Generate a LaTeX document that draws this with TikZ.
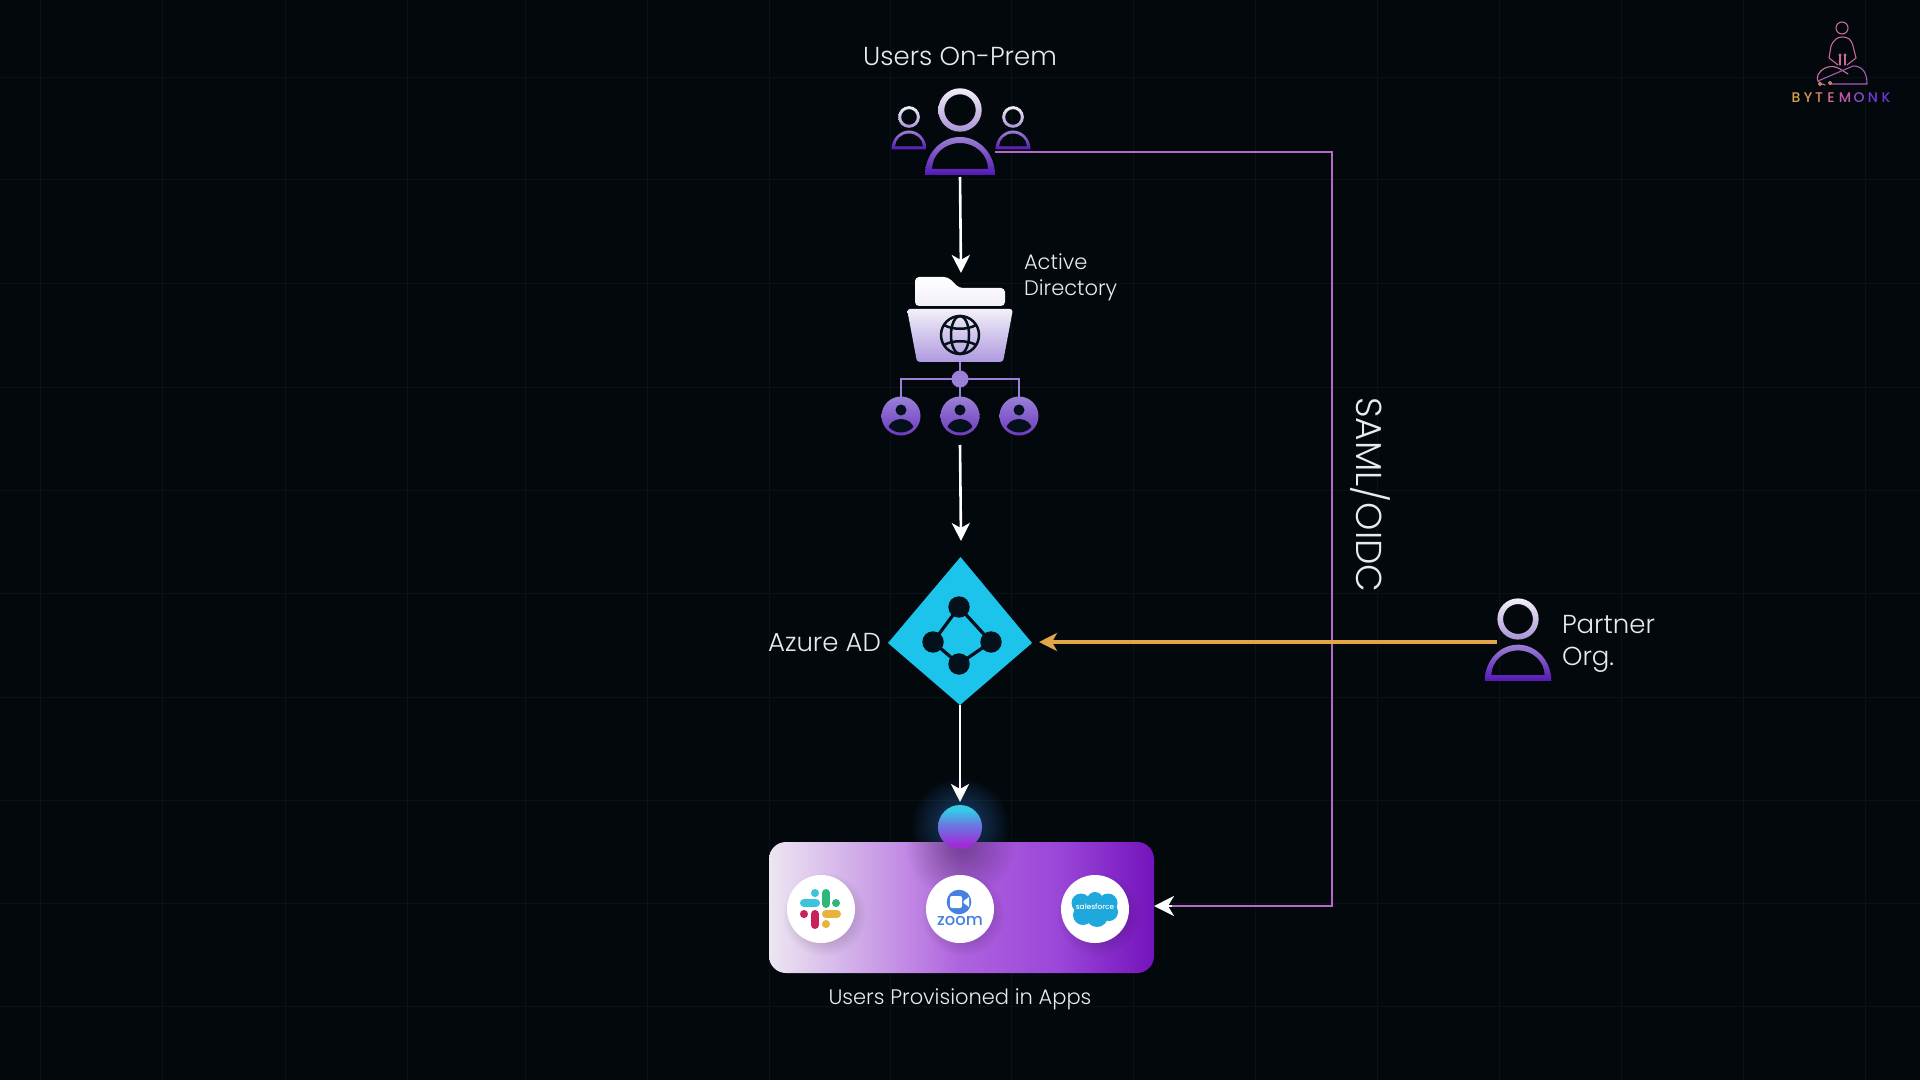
\documentclass[tikz,border=0pt]{standalone}
\usepackage{fontspec}
\setmainfont{Poppins Light}
\newfontfamily\medfont{Poppins Medium}
\usetikzlibrary{arrows.meta,fadings,calc}
\tikzfading[name=softglow,inner color=transparent!0,outer color=transparent!100]
\definecolor{bgc}{HTML}{03080C}
\definecolor{gridc}{HTML}{091216}
\definecolor{labelc}{HTML}{E8EAF0}
\definecolor{headtop}{HTML}{F2F0F8}
\definecolor{headbot}{HTML}{A993D6}
\definecolor{bodytop}{HTML}{9C7FD2}
\definecolor{bodybot}{HTML}{5318B4}
\definecolor{samlc}{HTML}{B768C8}
\definecolor{partnerc}{HTML}{E2A548}
\definecolor{azurec}{HTML}{1CC3EA}
\definecolor{darkc}{HTML}{04101A}
\definecolor{treec}{HTML}{9A80D6}
\definecolor{glowc}{HTML}{2C6FC0}
\definecolor{zoomc}{HTML}{4580E2}
\definecolor{sfc}{HTML}{1FA8DC}
\pgfdeclarehorizontalshading{appsgrad}{100bp}{
  rgb(0bp)=(.929,.902,.949);
  rgb(25bp)=(.929,.902,.949);
  rgb(37bp)=(.812,.659,.91);
  rgb(50bp)=(.682,.384,.871);
  rgb(63bp)=(.604,.271,.847);
  rgb(75bp)=(.455,.075,.737);
  rgb(100bp)=(.455,.075,.737)}
\pgfdeclareverticalshading{ballgrad}{100bp}{
  rgb(0bp)=(.627,.173,.847);
  rgb(30bp)=(.627,.173,.847);
  rgb(52bp)=(.416,.471,.878);
  rgb(70bp)=(.208,.8,.91);
  rgb(100bp)=(.208,.8,.91)}
\tikzset{
  lbl/.style={text=labelc,inner sep=0pt,outer sep=0pt},
  iconbox/.style={minimum width=#1,inner sep=0pt,outer sep=0pt},
  flow/.style={draw=white,line width=1.3pt,-{Stealth[length=9pt,width=9pt,inset=2.5pt]}},
  logoline/.style={line width=.55pt,line cap=round,line join=round},
  appcircle/.style={circle,fill=white,minimum size=34pt,inner sep=0pt,outer sep=0pt},
  slackpill/.style={line width=4pt,line cap=round},
  logoletter/.style={inner sep=0pt,font=\medfont\fontsize{7}{8}\selectfont},
}
\newcommand{\personicon}[3]{%
  \begin{scope}[shift={(#1,#2)},scale=#3]
    \shade[even odd rule,top color=headtop,bottom color=headbot]
      (0,0) circle (21.7) (0,0) circle (15.7);
    \shade[even odd rule,top color=bodytop,bottom color=bodybot]
      (-35,65) arc[start angle=180,end angle=360,x radius=35,y radius=38] -- cycle
      (-28,59) arc[start angle=180,end angle=360,x radius=28,y radius=26] -- cycle;
  \end{scope}}
\newcommand{\treeuser}[1]{%
  \begin{scope}[shift={(#1,416)}]
    \shade[top color=treec,bottom color=bodybot!85!white] (0,0) circle (19.5);
    \begin{scope}
      \clip (0,0) circle (16.5);
      \fill[darkc] (0,-6) circle (5.5);
      \fill[darkc] (0,14) ellipse (13 and 11);
    \end{scope}
  \end{scope}}
\newcommand{\dropshadow}[1]{\fill[black,opacity=.4,path fading=softglow] ($(#1)+(3,5)$) circle (42);}
\begin{document}
\begin{tikzpicture}[x=0.5pt,y=-0.5pt]
\useasboundingbox (0,0) rectangle (1920,1080);
\fill[bgc] (0,0) rectangle (1920,1080);
\foreach \gx in {40,162,285,407,525,647,769,890,1011,1133,1255,1377,1499,1621,1743,1865}
  \draw[gridc,line width=.5pt] (\gx,0) -- (\gx,1080);
\foreach \gy in {78,180,284,387,490,593,697,800,903,1006}
  \draw[gridc,line width=.5pt] (0,\gy) -- (1920,\gy);

% anchors for icons
\node[iconbox=35pt,minimum height=35pt] (onprem) at (960,140) {};
\node[iconbox=53pt,minimum height=79.5pt] (directory) at (960,356.5) {};
\node[iconbox=72pt,minimum height=74pt] (azure) at (960,631) {};
\fill[azurec] (960.5,557) -- (1032,643) -- (960,705) -- (888,643) -- cycle;
\node[iconbox=33pt,minimum height=30pt] (partner) at (1518,649) {};

% glow behind ball
\fill[glowc,opacity=.7,path fading=softglow] (960,827) circle (50);

% connectors
\node[rectangle,rounded corners=8.5pt,shading=appsgrad,minimum width=192.5pt,minimum height=65.5pt,inner sep=0pt,outer sep=0pt] (apps) at (961.5,907.5) {};
\draw[samlc,line width=1.4pt] (onprem.east |- 0,152) -- (1332,152) -- (1332,906) -- (1170,906);
\draw[white,line width=1pt,-{Stealth[length=10pt,width=10pt,inset=3pt]}] (1172,906) -- (apps.east |- 0,906);
\draw[flow] (onprem.south) ++(0,2) -- (961,273);
\draw[flow] (directory.south) ++(0,9) -- (961,541);
\draw[flow] (azure.south) -- (960,802);
\draw[partnerc,line width=1.6pt,-{Stealth[length=9pt,width=9pt,inset=2.5pt]}] (1497,642) -- ($(azure.east |- 0,642)+(7,0)$);

% users on-prem
\personicon{909}{117}{.5}
\personicon{1013}{117}{.5}
\personicon{960}{110}{1}
\node[lbl,font=\fontsize{13}{15}\selectfont] (onpremlabel) at (960,56) {Users On-Prem};

% active directory
\fill[rounded corners=2pt,top color=white,bottom color=headtop]
  (915,306) -- (915,277) -- (948,277) -- (959,288) -- (1005,288) -- (1005,306) -- cycle;
\fill[rounded corners=1.5pt,top color=headtop,bottom color=treec!80!white]
  (907,309) -- (1013,309) -- (1003,362) -- (917,362) -- cycle;
\begin{scope}[shift={(960,335)},draw=darkc,line width=1.25pt]
  \draw (0,0) circle (19);
  \draw (0,0) ellipse (9 and 19);
  \draw (-16,-10) .. controls (-8,-5) and (8,-5) .. (16,-10);
  \draw (-16,10) .. controls (-8,5) and (8,5) .. (16,10);
\end{scope}
\draw[treec,line width=1.4pt] (960,362) -- (960,397);
\draw[treec,line width=1.4pt] (901,397) -- (901,379) -- (1019,379) -- (1019,397);
\fill[treec] (960,379) circle (8.5);
\treeuser{901}
\treeuser{960}
\treeuser{1019}
\node[lbl,align=left,anchor=west,font=\fontsize{10.5}{12.9}\selectfont] (adlabel) at (1024,277) {Active\\Directory};

% azure
\draw[darkc,line width=1.6pt] (959,607) -- (933,642) -- (959,664) -- (991,642) -- cycle;
\foreach \p/\q in {959/607,933/642,991/642,959/664}
  \fill[darkc] (\p,\q) circle (10.7);
\node[lbl,anchor=east,font=\fontsize{13}{15}\selectfont] (azurelabel) at (881,643) {Azure AD};

% partner
\personicon{1518}{619}{.95}
\node[lbl,align=left,anchor=west,font=\fontsize{13}{16}\selectfont] (partnerlabel) at (1562,644) {Partner\\Org.};

% saml
\node[lbl,rotate=-90,font=\fontsize{18}{20}\selectfont] (samllabel) at (1370,495) {SAML/OIDC};

% app tray
\fill[black,opacity=.35,path fading=softglow] (960,845) circle (55);
\node[circle,shading=ballgrad,minimum size=22pt,inner sep=0pt,outer sep=0pt] (ball) at (960,827) {};
\dropshadow{821,909}\dropshadow{960,909}\dropshadow{1095,909}
\node[appcircle] (slack) at (821,909) {};
\node[appcircle] (zoomapp) at (960,909) {};
\node[appcircle] (salesforce) at (1095,909) {};

% slack logo
\definecolor{slackb}{HTML}{3CC4DC}\definecolor{slackg}{HTML}{2EB67D}
\definecolor{slackr}{HTML}{C9205E}\definecolor{slacky}{HTML}{E8B23C}
\draw[slackpill,slackb] (804,903) -- (816,903);
\draw[slackpill,slackb] (815,893) -- (815,893.1);
\draw[slackpill,slackg] (826,893) -- (826,904);
\draw[slackpill,slackg] (836,903) -- (836,903.1);
\draw[slackpill,slackr] (815,914) -- (815,925);
\draw[slackpill,slackr] (804,914) -- (804,914.1);
\draw[slackpill,slacky] (826,914) -- (837,914);
\draw[slackpill,slacky] (826,924) -- (826,924.1);

% zoom logo
\fill[zoomc] (959,902) circle (12.3);
\fill[white,rounded corners=1pt] (950,896) rectangle (962,908);
\fill[white] (963.5,901) -- (969,897) -- (969,907) -- (963.5,903) -- cycle;
\node[text=zoomc,inner sep=0pt,font=\medfont\fontsize{8.2}{10}\selectfont] (zoomtext) at (960,921) {zoom};

% salesforce logo
\fill[sfc] (1081,903) circle (9.5) (1095,900) circle (8) (1108,903) circle (9.5)
  (1083,915) circle (10) (1097,916) circle (11) (1109,912) circle (9);
\node[text=white,inner sep=0pt,font=\medfont\fontsize{3.7}{5}\selectfont] (sftext) at (1095,907) {salesforce};

\node[lbl,font=\fontsize{10.5}{12}\selectfont] (appslabel) at (960,999) {Users Provisioned in Apps};

% bytemonk logo
\definecolor{lga}{HTML}{D68A7E}\definecolor{lgb}{HTML}{C9689C}\definecolor{lgc}{HTML}{A85BB8}
\begin{scope}[logoline]
  \draw[lgb] (1842,28) circle (6);
  \draw[lgb] (1838,65) -- (1829,58) -- (1831,46) .. controls (1834,39) and (1838,37) .. (1842,37) .. controls (1848,37) and (1851,39) .. (1853,46) -- (1856,58) -- (1847,65);
  \draw[lgb] (1840,65) -- (1840,55) (1845,65) -- (1845,55);
  \fill[lgb] (1840,55) circle (1.6) (1845,55) circle (1.6);
  \draw[lgb!70!lga] (1825,85) .. controls (1818,83) and (1816,80) .. (1818,75) .. controls (1822,67) and (1832,64) .. (1840,69) -- (1848,74);
  \draw[lgc!90!lgb] (1818,81) -- (1853,66) .. controls (1862,66) and (1867,72) .. (1867,84) -- (1830,84);
  \draw[lga] (1820,84) circle (1.5) (1830,83) circle (1.5);
\end{scope}
\definecolor{la}{HTML}{D9A24C}\definecolor{lb}{HTML}{DE9558}\definecolor{lc}{HTML}{DE8468}
\definecolor{ld}{HTML}{D86E88}\definecolor{le}{HTML}{C456AE}\definecolor{lf}{HTML}{8F4CD0}
\definecolor{lg}{HTML}{6F3CD8}\definecolor{lh}{HTML}{6A36CC}
\foreach \ch/\cx/\cc/\nm in {B/1796/la/la,Y/1808/lb/lb,T/1819/lc/lc,E/1831/ld/ld,M/1845/le/le,O/1859/lf/lf,N/1873/lg/lg,K/1886/lh/lh}
  \node[logoletter,text=\cc] (logo\nm) at (\cx,98) {\ch};
\end{tikzpicture}
\end{document}
